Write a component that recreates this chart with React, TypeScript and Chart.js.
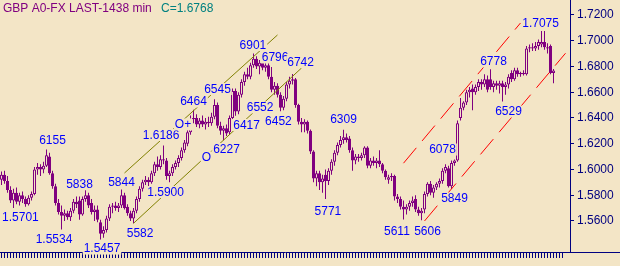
import React, { useEffect, useRef } from "react";
import { Chart, registerables } from "chart.js";

Chart.register(...registerables);

const BG = "#F3E5C6";
const PURPLE = "#800080";
const NAVY = "#000080";
const BLUE = "#0000FF";
const OLIVE = "#808000";
const RED = "#FF0000";
const TEAL = "#008080";

const slotCount = 190;
const tickCount = 188;

const opens = [
  1.5920, 1.5960, 1.5910, 1.5840, 1.5760, 1.5820, 1.5750, 1.5800, 1.5770, 1.5730,
  1.5780, 1.5810, 1.6000, 1.6020, 1.6000, 1.6030, 1.6100, 1.5970, 1.5870, 1.5740,
  1.5670, 1.5640, 1.5660, 1.5630, 1.5680, 1.5750, 1.5760, 1.5650, 1.5770, 1.5800,
  1.5740, 1.5670, 1.5690, 1.5590, 1.5500, 1.5530, 1.5620, 1.5710, 1.5720, 1.5700,
  1.5720, 1.5800, 1.5710, 1.5660, 1.5620, 1.5680, 1.5770, 1.5850, 1.5900, 1.5920,
  1.5900, 1.5970, 1.6040, 1.6020, 1.6080, 1.6070, 1.5950, 1.5970, 1.6020, 1.6050,
  1.6090, 1.6150, 1.6200, 1.6290, 1.6390, 1.6400, 1.6350, 1.6380, 1.6350, 1.6370,
  1.6360, 1.6410, 1.6500, 1.6340, 1.6300, 1.6320, 1.6290, 1.6400, 1.6610, 1.6450,
  1.6580, 1.6680, 1.6740, 1.6720, 1.6810, 1.6860, 1.6800, 1.6830, 1.6790, 1.6810,
  1.6720, 1.6620, 1.6650, 1.6580, 1.6480, 1.6550, 1.6660, 1.6690, 1.6700, 1.6500,
  1.6370, 1.6350, 1.6370, 1.6300, 1.6140, 1.5930, 1.5970, 1.5900, 1.5960, 1.5910,
  1.5990, 1.6060, 1.6130, 1.6190, 1.6230, 1.6250, 1.6240, 1.6150, 1.6070, 1.6100,
  1.6090, 1.6110, 1.6170, 1.6030, 1.6070, 1.6050, 1.6070, 1.6040, 1.5990, 1.5920,
  1.5940, 1.5950, 1.5790, 1.5770, 1.5710, 1.5690, 1.5710, 1.5740, 1.5770, 1.5690,
  1.5660, 1.5690, 1.5810, 1.5890, 1.5820, 1.5860, 1.5890, 1.5910, 1.5990, 1.6010,
  1.5870, 1.6050, 1.6070, 1.6400, 1.6480, 1.6520, 1.6600, 1.6630, 1.6600, 1.6640,
  1.6680, 1.6660, 1.6700, 1.6700, 1.6640, 1.6670, 1.6650, 1.6670, 1.6640, 1.6660,
  1.6750, 1.6700, 1.6770, 1.6740, 1.6750, 1.6740, 1.6940, 1.6950, 1.6940, 1.6960,
  1.6970, 1.6990, 1.6950, 1.6960, 1.6750,
];

const highs = [
  1.5985, 1.5990, 1.5950, 1.5870, 1.5850, 1.5860, 1.5820, 1.5830, 1.5790, 1.5800,
  1.5830, 1.6020, 1.6050, 1.6040, 1.6060, 1.6155, 1.6130, 1.5990, 1.5890, 1.5770,
  1.5720, 1.5690, 1.5680, 1.5700, 1.5770, 1.5790, 1.5790, 1.5790, 1.5838, 1.5820,
  1.5770, 1.5720, 1.5720, 1.5610, 1.5560, 1.5640, 1.5730, 1.5740, 1.5750, 1.5740,
  1.5844, 1.5820, 1.5730, 1.5680, 1.5700, 1.5790, 1.5870, 1.5920, 1.5950, 1.5940,
  1.5990, 1.6060, 1.6100, 1.6110, 1.6186, 1.6090, 1.5990, 1.6040, 1.6070, 1.6110,
  1.6170, 1.6230, 1.6310, 1.6420, 1.6464, 1.6430, 1.6400, 1.6420, 1.6400, 1.6410,
  1.6440, 1.6545, 1.6520, 1.6370, 1.6340, 1.6350, 1.6420, 1.6630, 1.6630, 1.6600,
  1.6700, 1.6760, 1.6790, 1.6830, 1.6901, 1.6880, 1.6850, 1.6860, 1.6840, 1.6830,
  1.6796, 1.6680, 1.6670, 1.6600, 1.6570, 1.6680, 1.6720, 1.6742, 1.6710, 1.6510,
  1.6400, 1.6390, 1.6380, 1.6310, 1.6150, 1.5990, 1.5990, 1.5960, 1.6000, 1.6010,
  1.6080, 1.6150, 1.6210, 1.6260, 1.6309, 1.6280, 1.6260, 1.6170, 1.6120, 1.6120,
  1.6130, 1.6180, 1.6180, 1.6090, 1.6100, 1.6090, 1.6150, 1.6050, 1.6000, 1.5960,
  1.5970, 1.5960, 1.5810, 1.5790, 1.5760, 1.5730, 1.5760, 1.5790, 1.5800, 1.5710,
  1.5700, 1.5830, 1.5900, 1.5910, 1.5880, 1.5900, 1.5930, 1.6010, 1.6040, 1.6030,
  1.6070, 1.6078, 1.6380, 1.6555, 1.6530, 1.6620, 1.6640, 1.6660, 1.6660, 1.6700,
  1.6700, 1.6740, 1.6730, 1.6778, 1.6690, 1.6690, 1.6690, 1.6690, 1.6680, 1.6740,
  1.6770, 1.6790, 1.6790, 1.6760, 1.6770, 1.6960, 1.6970, 1.6980, 1.6990, 1.7010,
  1.7075, 1.7075, 1.6980, 1.6970, 1.6780,
];

const lows = [
  1.5880, 1.5890, 1.5820, 1.5740, 1.5701, 1.5730, 1.5720, 1.5740, 1.5710, 1.5720,
  1.5760, 1.5800, 1.5960, 1.5950, 1.5970, 1.6020, 1.5960, 1.5850, 1.5720, 1.5650,
  1.5534, 1.5600, 1.5610, 1.5600, 1.5660, 1.5700, 1.5610, 1.5640, 1.5750, 1.5700,
  1.5650, 1.5600, 1.5590, 1.5457, 1.5470, 1.5510, 1.5600, 1.5660, 1.5680, 1.5670,
  1.5700, 1.5690, 1.5640, 1.5600, 1.5582, 1.5660, 1.5750, 1.5830, 1.5880, 1.5870,
  1.5890, 1.5950, 1.5990, 1.6000, 1.6040, 1.5920, 1.5900, 1.5950, 1.6000, 1.6020,
  1.6070, 1.6130, 1.6180, 1.6270, 1.6360, 1.6330, 1.6320, 1.6330, 1.6310, 1.6330,
  1.6340, 1.6390, 1.6320, 1.6270, 1.6227, 1.6260, 1.6270, 1.6390, 1.6417, 1.6430,
  1.6560, 1.6650, 1.6700, 1.6700, 1.6790, 1.6780, 1.6740, 1.6770, 1.6760, 1.6700,
  1.6600, 1.6580, 1.6560, 1.6452, 1.6460, 1.6530, 1.6630, 1.6660, 1.6480, 1.6350,
  1.6290, 1.6290, 1.6280, 1.6120, 1.5900, 1.5870, 1.5840, 1.5820, 1.5771, 1.5880,
  1.5960, 1.6030, 1.6110, 1.6170, 1.6200, 1.6210, 1.6130, 1.5990, 1.6040, 1.6060,
  1.6070, 1.6090, 1.6010, 1.6010, 1.6030, 1.6010, 1.6020, 1.5970, 1.5920, 1.5890,
  1.5910, 1.5760, 1.5740, 1.5690, 1.5611, 1.5650, 1.5680, 1.5710, 1.5670, 1.5640,
  1.5606, 1.5660, 1.5790, 1.5800, 1.5780, 1.5840, 1.5860, 1.5890, 1.5970, 1.5860,
  1.5849, 1.6030, 1.6060, 1.6380, 1.6460, 1.6500, 1.6560, 1.6460, 1.6580, 1.6610,
  1.6620, 1.6640, 1.6600, 1.6620, 1.6600, 1.6620, 1.6590, 1.6529, 1.6580, 1.6630,
  1.6680, 1.6690, 1.6720, 1.6720, 1.6730, 1.6730, 1.6910, 1.6920, 1.6920, 1.6930,
  1.6950, 1.6930, 1.6900, 1.6740, 1.6670,
];

const closes = [
  1.5960, 1.5910, 1.5840, 1.5760, 1.5820, 1.5750, 1.5800, 1.5770, 1.5730, 1.5780,
  1.5810, 1.6000, 1.6020, 1.6000, 1.6030, 1.6110, 1.5970, 1.5870, 1.5740, 1.5670,
  1.5640, 1.5660, 1.5630, 1.5680, 1.5750, 1.5730, 1.5650, 1.5770, 1.5800, 1.5720,
  1.5670, 1.5690, 1.5610, 1.5500, 1.5530, 1.5620, 1.5710, 1.5720, 1.5700, 1.5720,
  1.5800, 1.5700, 1.5660, 1.5620, 1.5680, 1.5770, 1.5850, 1.5900, 1.5920, 1.5900,
  1.5970, 1.6040, 1.6020, 1.6080, 1.6070, 1.5950, 1.5970, 1.6020, 1.6050, 1.6090,
  1.6150, 1.6210, 1.6290, 1.6390, 1.6400, 1.6350, 1.6380, 1.6350, 1.6370, 1.6360,
  1.6410, 1.6500, 1.6340, 1.6300, 1.6320, 1.6280, 1.6400, 1.6610, 1.6450, 1.6580,
  1.6680, 1.6740, 1.6720, 1.6810, 1.6860, 1.6800, 1.6830, 1.6790, 1.6810, 1.6720,
  1.6620, 1.6650, 1.6580, 1.6480, 1.6550, 1.6660, 1.6690, 1.6700, 1.6500, 1.6370,
  1.6350, 1.6370, 1.6300, 1.6140, 1.5930, 1.5970, 1.5900, 1.5930, 1.5910, 1.5990,
  1.6060, 1.6130, 1.6190, 1.6230, 1.6250, 1.6230, 1.6150, 1.6070, 1.6100, 1.6090,
  1.6110, 1.6170, 1.6030, 1.6070, 1.6050, 1.6070, 1.6040, 1.5990, 1.5940, 1.5940,
  1.5950, 1.5790, 1.5770, 1.5710, 1.5690, 1.5710, 1.5740, 1.5760, 1.5690, 1.5660,
  1.5680, 1.5810, 1.5890, 1.5820, 1.5860, 1.5890, 1.5910, 1.5990, 1.6020, 1.5870,
  1.6050, 1.6070, 1.6360, 1.6480, 1.6520, 1.6600, 1.6620, 1.6600, 1.6640, 1.6680,
  1.6660, 1.6700, 1.6620, 1.6640, 1.6670, 1.6650, 1.6670, 1.6640, 1.6660, 1.6720,
  1.6700, 1.6770, 1.6740, 1.6750, 1.6740, 1.6940, 1.6950, 1.6940, 1.6960, 1.6990,
  1.6990, 1.6950, 1.6940, 1.6750, 1.6768,
];

const priceTicks = [1.56, 1.58, 1.6, 1.62, 1.64, 1.66, 1.68, 1.7, 1.72];
const priceMax = 1.73165;
const priceMin = 1.53592;

const titleText = "GBP A0-FX LAST-1438 min";
const lastText = "C=1.6768";

const noteTexts = [
  "6155", "1.5701", "1.5534", "5838", "1.5457", "5844", "5582", "1.5900", "1.6186",
  "O", "6227", "O+", "6464", "6545", "6417", "6901", "6796", "6742", "6552", "6452",
  "6309", "5771", "5611", "5606", "6078", "5849", "6778", "6529", "1.7075",
];
const noteBars = [
  17, 6.3, 17.5, 26, 33.5, 40, 46.2, 54.7, 53.2,
  68.3, 75, 60.5, 64, 72, 81.7, 83.8, 91.2, 99.7, 86.2, 92.3,
  114, 108.8, 131.8, 142, 147, 151, 164, 169, 179.7,
];
const notePrices = [
  1.6225, 1.5631, 1.5456, 1.5887, 1.5386, 1.5903, 1.5507, 1.5825, 1.6268,
  1.6093, 1.6159, 1.635, 1.6528, 1.6625, 1.6346, 1.6967, 1.687, 1.6835, 1.6482, 1.6377,
  1.6392, 1.5674, 1.5518, 1.5518, 1.6155, 1.5775, 1.6839, 1.645, 1.7138,
];

const leftUpperLine = [{ x: 41, y: 1.5973 }, { x: 92, y: 1.7045 }];
const leftLowerLine = [{ x: 44, y: 1.5582 }, { x: 100, y: 1.6788 }];
const rightUpperLine = [{ x: 134, y: 1.6049 }, { x: 173, y: 1.7138 }];
const rightLowerLine = [{ x: 141, y: 1.56 }, { x: 188, y: 1.6903 }];

const LABEL_FONT = '12px "Liberation Sans Narrow", "Liberation Sans", Arial, sans-serif';
const TITLE_FONT = '12px "Liberation Sans", Arial, sans-serif';

const notesPlugin = {
  id: "notes",
  afterDatasetsDraw(chart: any) {
    const ctx = chart.ctx;
    const xs = chart.scales.x;
    const ys = chart.scales.y;
    ctx.save();
    ctx.font = LABEL_FONT;
    ctx.textAlign = "center";
    ctx.textBaseline = "middle";
    noteTexts.forEach((t, k) => {
      const px = xs.getPixelForValue(noteBars[k]);
      const py = ys.getPixelForValue(notePrices[k]);
      const w = ctx.measureText(t).width;
      ctx.fillStyle = BG;
      ctx.fillRect(px - w / 2 - 1, py - 6, w + 2, 12);
      ctx.fillStyle = BLUE;
      ctx.fillText(t, px, py + 0.5);
    });
    ctx.restore();
  },
  afterDraw(chart: any) {
    const ctx = chart.ctx;
    const area = chart.chartArea;
    ctx.save();
    ctx.strokeStyle = NAVY;
    ctx.lineWidth = 1;
    ctx.beginPath();
    ctx.moveTo(area.right, Math.round(area.bottom) + 0.5);
    ctx.lineTo(chart.width, Math.round(area.bottom) + 0.5);
    ctx.stroke();
    ctx.font = TITLE_FONT;
    ctx.textAlign = "left";
    ctx.textBaseline = "alphabetic";
    ctx.fillStyle = PURPLE;
    ctx.fillText(titleText, 3, 12);
    ctx.fillStyle = TEAL;
    ctx.fillText(lastText, 161, 12);
    ctx.restore();
  },
};

export default function App() {
  const ref = useRef<HTMLCanvasElement | null>(null);

  useEffect(() => {
    if (!ref.current) return;
    const labels = Array.from({ length: slotCount }, (_, i) => i);
    const wickData = labels.map((i) => (i < opens.length ? [lows[i], highs[i]] : null));
    const bodyData = labels.map((i) => (i < opens.length ? [opens[i], closes[i]] : null));
    const bodyFill = labels.map((i) =>
      i < opens.length && closes[i] < opens[i] ? PURPLE : BG
    );

    const lineDs = (data: any[], color: string, dash: number[]) => ({
      type: "line" as const,
      data,
      borderColor: color,
      borderWidth: 1,
      borderDash: dash,
      pointRadius: 0,
      fill: false,
      tension: 0,
      order: 0,
    });

    const chart = new Chart(ref.current, {
      type: "bar",
      data: {
        labels,
        datasets: [
          lineDs(leftUpperLine, OLIVE, []),
          lineDs(leftLowerLine, OLIVE, []),
          lineDs(rightUpperLine, RED, [20, 9]),
          lineDs(rightLowerLine, RED, [20, 9]),
          {
            type: "bar",
            data: bodyData as any,
            backgroundColor: bodyFill,
            borderColor: PURPLE,
            borderWidth: 1,
            borderSkipped: false,
            barThickness: 3,
            grouped: false,
            inflateAmount: 0,
            minBarLength: 1,
            order: 1,
          } as any,
          {
            type: "bar",
            data: wickData as any,
            backgroundColor: PURPLE,
            borderWidth: 0,
            barThickness: 1,
            grouped: false,
            inflateAmount: 0,
            order: 2,
          } as any,
        ],
      },
      options: {
        responsive: false,
        animation: false,
        events: [],
        layout: { padding: 0 },
        plugins: {
          legend: { display: false },
          tooltip: { enabled: false },
          title: { display: false },
        },
        scales: {
          x: {
            type: "category",
            offset: true,
            z: 1,
            grid: {
              offset: false,
              drawOnChartArea: false,
              drawTicks: true,
              tickLength: 6,
              tickColor: NAVY,
              color: NAVY,
            },
            border: { display: true, color: NAVY, width: 1 },
            ticks: { display: false, autoSkip: false },
            afterBuildTicks: (scale: any) => {
              scale.ticks = scale.ticks.slice(0, tickCount);
            },
            afterFit: (scale: any) => {
              scale.height = 14;
              scale.paddingLeft = 0;
              scale.paddingRight = 0;
            },
          },
          y: {
            type: "linear",
            position: "right",
            min: priceMin,
            max: priceMax,
            z: 1,
            grid: {
              drawOnChartArea: false,
              drawTicks: true,
              tickLength: 4,
              tickColor: NAVY,
              color: NAVY,
            },
            border: { display: true, color: NAVY, width: 1 },
            ticks: {
              color: NAVY,
              padding: 3,
              font: { family: '"Liberation Sans", Arial, sans-serif', size: 12 },
              callback: (v: any) => Number(v).toFixed(4),
            },
            afterBuildTicks: (scale: any) => {
              scale.ticks = priceTicks.map((value) => ({ value }));
            },
            afterFit: (scale: any) => {
              scale.width = 50;
              scale.paddingTop = 0;
              scale.paddingBottom = 0;
            },
          },
        },
      } as any,
      plugins: [notesPlugin],
    });

    return () => chart.destroy();
  }, []);

  return (
    <div
      style={{
        position: "absolute",
        left: 0,
        top: 0,
        width: 620,
        height: 266,
        background: BG,
        overflow: "hidden",
      }}
    >
      <canvas ref={ref} width={620} height={266} style={{ display: "block" }} />
    </div>
  );
}
